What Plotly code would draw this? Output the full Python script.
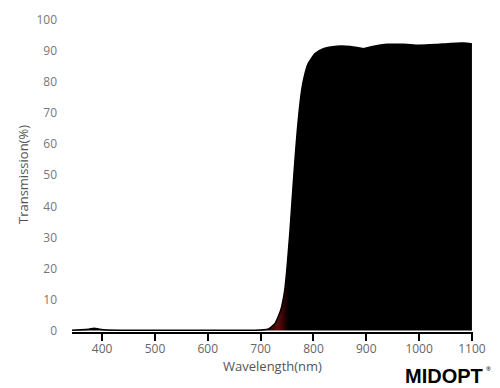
import plotly.graph_objects as go

wavelength = [343, 360, 375, 385, 395, 410, 450, 500, 550, 600, 650, 690, 705, 715,
              727, 738, 745.6, 750.6, 755.7, 760, 764.5, 769.5, 776, 781, 790, 803,
              818.7, 844, 870, 888, 895, 910, 940, 970, 1000, 1030, 1060, 1085, 1100]
transmission = [0.1, 0.2, 0.4, 0.7, 0.4, 0.15, 0.1, 0.1, 0.1, 0.1, 0.1, 0.1, 0.2, 0.5,
                2.2, 6.5, 12.9, 21.5, 32.3, 43.0, 53.8, 64.5, 75.3, 80.6, 86.0, 89.2,
                90.8, 91.6, 91.5, 91.0, 90.8, 91.4, 92.2, 92.2, 91.9, 92.1, 92.5, 92.6, 92.3]

x_ticks = [400, 500, 600, 700, 800, 900, 1000, 1100]
y_ticks = [0, 10, 20, 30, 40, 50, 60, 70, 80, 90, 100]

L, R, T, B = 72, 27, 17, 56
PW, PH = 500 - L - R, 388 - T - B


def px(xp):
    return (xp - L) / PW


def py(yp):
    return (388 - B - yp) / PH


fig = go.Figure()
fig.add_trace(go.Scatter(
    x=wavelength, y=transmission, mode="lines",
    line=dict(color="black", width=1.5, shape="spline", smoothing=0.5),
    fill="tozeroy",
    fillgradient=dict(type="horizontal", start=710, stop=760,
                      colorscale=[[0, "black"], [0.2, "#3a0505"], [0.45, "#5c0c0c"],
                                  [0.7, "#2a0303"], [0.85, "black"], [1, "black"]]),
    hoverinfo="skip", showlegend=False,
))

fig.update_layout(
    width=500, height=388,
    margin=dict(l=L, r=R, t=T, b=B),
    paper_bgcolor="white", plot_bgcolor="white",
    font=dict(family="Open Sans", size=12, color="#777"),
    xaxis=dict(range=[343, 1102], tickvals=x_ticks, showgrid=False, zeroline=False,
               showline=True, linecolor="black", linewidth=1.5,
               ticks="outside", ticklen=7, tickwidth=1.5, tickcolor="black",
               ticklabelstandoff=-2,
               tickfont=dict(size=12, color="#666"),
               title=dict(text="Wavelength(nm)", font=dict(size=13, color="#555"), standoff=6)),
    yaxis=dict(range=[-0.5, 101], tickvals=y_ticks, showgrid=False, zeroline=False,
               showline=False, ticks="", ticklabelstandoff=14,
               tickfont=dict(size=12, color="#777"),
               title=dict(text="Transmission(%)", font=dict(size=13, color="#555"), standoff=4)),
)

fig.add_annotation(x=px(444), y=py(376), xref="paper", yref="paper", text="<b>MIDOPT</b>",
                   xanchor="center", yanchor="middle", showarrow=False,
                   font=dict(family="Liberation Sans", size=20, color="black"))
fig.add_annotation(x=px(488), y=py(369), xref="paper", yref="paper", text="®",
                   xanchor="center", yanchor="middle", showarrow=False,
                   font=dict(size=6, color="black"))

fig.write_html("out.html")
